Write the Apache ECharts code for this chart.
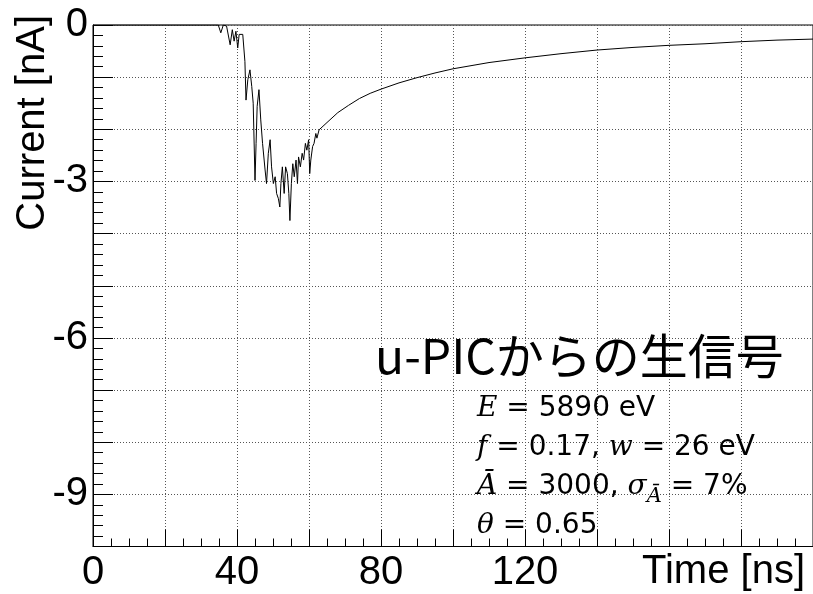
<!DOCTYPE html>
<html>
<head>
<meta charset="utf-8">
<script src="https://cdn.jsdelivr.net/npm/echarts@6/dist/echarts.min.js"></script>
<style>html,body{margin:0;padding:0;background:#fff}#c{width:813px;height:594px}</style>
</head>
<body>
<div id="c"></div>
<script>
// Time axis (ns) and current (nA)
const timeNs = [0, 34.8, 35.5, 36.2, 37.1, 38.1, 38.7, 39.2, 39.7, 40.2, 40.6, 41.0, 41.6, 42.2, 42.5, 43.0, 43.6, 44.1, 44.5, 45.0, 45.3, 45.6, 46.1, 46.6, 47.1, 47.8, 48.2, 48.7, 49.2, 49.6, 50.1, 50.6, 51.0, 51.5, 51.9, 52.2, 52.6, 53.1, 53.5, 54.0, 54.4, 54.7, 55.1, 55.5, 55.9, 56.4, 56.8, 57.1, 57.6, 58.1, 58.5, 59.0, 59.4, 59.9, 60.2, 60.5, 61.0, 61.4, 61.9, 62.2, 62.8, 63.1, 65, 68, 71, 74, 77, 80, 85, 90, 95, 100, 110, 120, 130, 140, 150, 160, 170, 180, 190, 200];
const currentNA = [0, 0, -0.15, 0, -0.02, -0.38, -0.09, -0.31, -0.12, -0.44, -0.18, -0.15, -0.18, -0.70, -1.44, -1.05, -0.86, -1.18, -1.50, -2.98, -2.27, -1.56, -1.24, -1.82, -2.27, -2.78, -3.04, -2.46, -2.20, -2.72, -3.04, -2.91, -3.23, -3.33, -3.49, -3.04, -2.72, -3.23, -2.72, -2.85, -3.23, -3.75, -3.04, -2.66, -2.91, -2.59, -3.04, -2.53, -2.72, -2.46, -2.59, -2.27, -2.40, -2.20, -2.85, -2.59, -2.33, -2.27, -2.08, -2.17, -2.01, -1.98, -1.87, -1.68, -1.54, -1.41, -1.31, -1.23, -1.11, -1.01, -0.92, -0.84, -0.72, -0.63, -0.55, -0.48, -0.43, -0.39, -0.36, -0.32, -0.29, -0.27];
const xTickLabels = [0, 40, 80, 120];
const yTickLabels = [0, -3, -6, -9];
const xAxisTitle = 'Time [ns]';
const yAxisTitle = 'Current [nA]';
const plotTitle = 'u-PICからの生信号';
const paramLines = [
  '{m|E} = 5890 eV',
  '{m|f} = 0.17, {m|w} = 26 eV',
  '{m|A\u0304} = 3000, {m|σ}{s|A\u0304} = 7%',
  '{m|θ} = 0.65'
];

const chart = echarts.init(document.getElementById('c'), null, {renderer: 'canvas'});
const seriesData = timeNs.map((t, i) => [t, currentNA[i]]);
const labelFont = 'Liberation Sans';
const gridLine = {show: true, lineStyle: {color: '#555', width: 1, type: [1, 2]}};

const paramGraphics = paramLines.map((txt, i) => ({
  type: 'text', left: 477, top: 395 + i * 39, z: 10,
  style: {
    text: txt, fontFamily: 'DejaVu Sans', fontSize: 28, fill: '#000',
    rich: {
      m: {fontFamily: 'DejaVu Serif', fontStyle: 'italic', fontSize: 28, fill: '#000'},
      s: {fontFamily: 'DejaVu Serif', fontStyle: 'italic', fontSize: 21, fill: '#000', padding: [20, 0, 0, 0], verticalAlign: 'bottom'}
    }
  }
}));

chart.setOption({
  animation: false,
  backgroundColor: '#fff',
  grid: {left: 93, top: 25, width: 720, height: 521.5, show: true, borderColor: '#000', borderWidth: 1,
         containLabel: false, outerBoundsMode: 'none'},
  xAxis: {
    type: 'value', min: 0, max: 200, interval: 20,
    axisLine: {show: true, onZero: false, lineStyle: {color: '#000', width: 1}},
    axisTick: {show: true, inside: true, length: 17, lineStyle: {color: '#000'}},
    minorTick: {show: true, splitNumber: 4, length: 8, lineStyle: {color: '#000'}},
    splitLine: gridLine,
    axisLabel: {
      margin: 6, fontFamily: labelFont, fontSize: 40, color: '#000', showMaxLabel: true,
      formatter: v => xTickLabels.includes(v) ? String(v) : ''
    }
  },
  yAxis: {
    type: 'value', min: -10, max: 0, interval: 1,
    axisLine: {show: true, onZero: false, lineStyle: {color: '#000', width: 1}},
    axisTick: {show: true, inside: true, length: 20, lineStyle: {color: '#000'}},
    minorTick: {show: true, splitNumber: 5, length: 10, lineStyle: {color: '#000'}},
    splitLine: gridLine,
    axisLabel: {
      margin: 5, fontFamily: labelFont, fontSize: 40, color: '#000', showMaxLabel: true,
      formatter: v => yTickLabels.includes(v) ? String(v) : ''
    }
  },
  graphic: [
    {type: 'text', right: 8, top: 552, z: 10, style: {text: xAxisTitle, fontFamily: labelFont, fontSize: 40, fill: '#000'}},
    {type: 'text', x: 33, y: 15, rotation: Math.PI / 2, z: 10,
     style: {text: yAxisTitle, fontFamily: labelFont, fontSize: 40, fill: '#000', textAlign: 'right', textVerticalAlign: 'middle'}},
    {type: 'text', left: 375, top: 332, z: 10, style: {text: plotTitle, fontFamily: 'Noto Sans CJK JP', fontSize: 48, fill: '#000'}}
  ].concat(paramGraphics),
  series: [{
    type: 'line', data: seriesData, showSymbol: false, symbol: 'none',
    lineStyle: {color: '#000', width: 1}, clip: true, z: 5
  }]
});
</script>
</body>
</html>
